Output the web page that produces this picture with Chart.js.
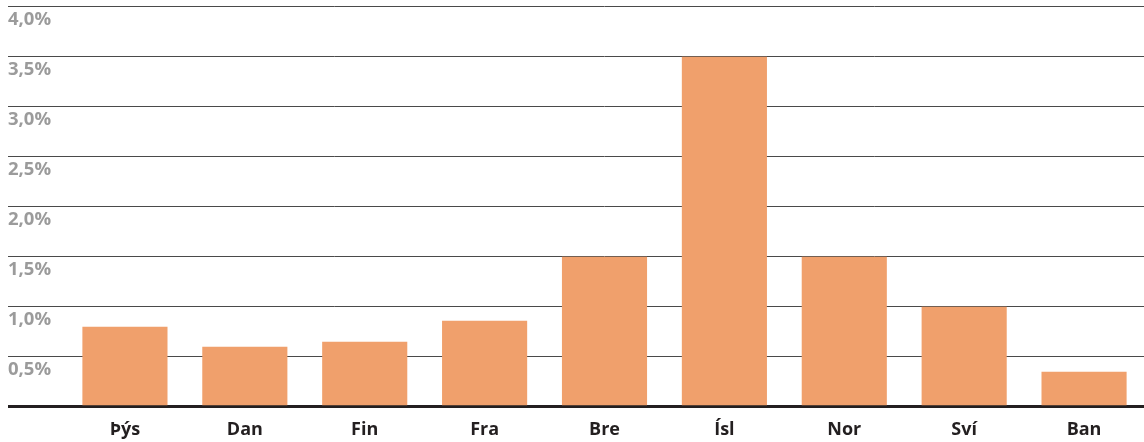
<!DOCTYPE html>
<html>
<head>
<meta charset="utf-8">
<script src="https://cdn.jsdelivr.net/npm/chart.js@4/dist/chart.umd.min.js"></script>
<style>
  html, body { margin: 0; padding: 0; background: #fff; }
  #wrap { width: 1144px; height: 442px; position: relative; }
</style>
</head>
<body>
<div id="wrap"><canvas id="c"></canvas></div>
<script>
const categories = ['Þýs', 'Dan', 'Fin', 'Fra', 'Bre', 'Ísl', 'Nor', 'Sví', 'Ban'];
const values = [0.80, 0.60, 0.65, 0.86, 1.50, 3.50, 1.50, 1.00, 0.35];
const yTickValues = [0, 0.5, 1.0, 1.5, 2.0, 2.5, 3.0, 3.5, 4.0];
const yTickLabels = ['', '0,5%', '1,0%', '1,5%', '2,0%', '2,5%', '3,0%', '3,5%', '4,0%'];

const FONT = '"Open Sans", "Noto Sans", sans-serif';

new Chart(document.getElementById('c'), {
  type: 'bar',
  data: {
    labels: categories,
    datasets: [{
      data: values,
      backgroundColor: '#F0A06C',
      borderWidth: 0,
      barPercentage: 0.71,
      categoryPercentage: 1.0
    }]
  },
  options: {
    responsive: true,
    maintainAspectRatio: false,
    animation: false,
    layout: { padding: { left: 8, right: 0, top: 6.7, bottom: 0 } },
    plugins: { legend: { display: false }, tooltip: { enabled: false } },
    scales: {
      x: {
        z: 1,
        grid: { display: false, drawTicks: false },
        border: { display: true, color: '#231f20', width: 3 },
        ticks: {
          color: '#231f20',
          font: { family: FONT, size: 18, weight: 'bold' },
          padding: 12
        },
        afterFit: (s) => { s.height = 35.3; }
      },
      y: {
        min: 0,
        max: 4,
        afterBuildTicks: (s) => { s.ticks = yTickValues.map(v => ({ value: v })); },
        grid: {
          color: (ctx) => ctx.tick && ctx.tick.value === 0 ? '#231f20' : '#4a4a4a',
          lineWidth: (ctx) => ctx.tick && ctx.tick.value === 0 ? 3 : 1,
          drawTicks: true,
          tickLength: 57
        },
        border: { display: false },
        ticks: {
          crossAlign: 'far',
          labelOffset: 13.5,
          padding: 0,
          color: '#9b9b9b',
          font: { family: FONT, size: 18.5, weight: 'bold' },
          callback: (v, i) => yTickLabels[i]
        },
        afterFit: (s) => { s.width = 57; s.paddingTop = 0; s.paddingBottom = 0; }
      }
    }
  }
});
</script>
</body>
</html>
